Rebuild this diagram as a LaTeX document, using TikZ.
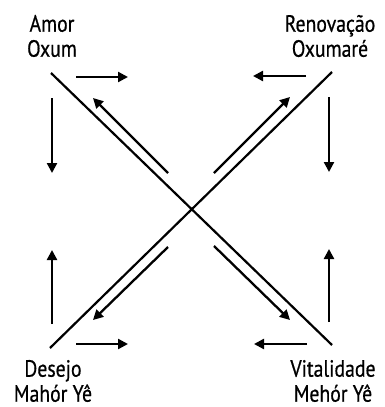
\documentclass[tikz,border=0pt]{standalone}
\usepackage{fontspec}
\setmainfont{PT Sans}[FakeStretch=0.84,FakeBold=0.6]
\usetikzlibrary{arrows.meta}
\begin{document}
\begin{tikzpicture}[x=1pt,y=-1pt,
  lbl/.style={align=center,font=\fontsize{23.5}{25}\selectfont,inner sep=0pt},
  seta/.style={line width=2.3pt,-{Triangle[length=10pt,width=10pt]}},
  diag/.style={line width=2.2pt}]
\useasboundingbox (0,0) rectangle (385,407);
% corner labels
\node[lbl] (amor) at (52,36) {Amor\\Oxum};
\node[lbl] (renov) at (330,36) {Renovação\\Oxumaré};
\node[lbl] (desejo) at (53,381) {Desejo\\Mahór Yê};
\node[lbl] (vital) at (333,381) {Vitalidade\\Mehór Yê};
% diagonals
\coordinate (nw) at (51,73);
\coordinate (se) at (332,345);
\coordinate (ne) at (332,72);
\coordinate (sw) at (50,348);
\draw[diag] (nw) -- (se);
\draw[diag] (ne) -- (sw);
% arrows beside the diagonals
\coordinate (d1a) at (168,173); \coordinate (d1b) at (93,98);
\coordinate (d2a) at (214,173); \coordinate (d2b) at (290,97);
\coordinate (d3a) at (168,247); \coordinate (d3b) at (93,320);
\coordinate (d4a) at (214,246); \coordinate (d4b) at (290,320);
\draw[seta] (d1a) -- (d1b);
\draw[seta] (d2a) -- (d2b);
\draw[seta] (d3a) -- (d3b);
\draw[seta] (d4a) -- (d4b);
% arrows round the corners
\coordinate (h1a) at (76,77);  \coordinate (h1b) at (128,77);
\coordinate (h2a) at (306,76); \coordinate (h2b) at (253,76);
\coordinate (h3a) at (76,344); \coordinate (h3b) at (128,344);
\coordinate (h4a) at (307,344); \coordinate (h4b) at (254,344);
\coordinate (v1a) at (52,98);  \coordinate (v1b) at (52,173);
\coordinate (v2a) at (329,97); \coordinate (v2b) at (329,172);
\coordinate (v3a) at (52,324); \coordinate (v3b) at (52,250);
\coordinate (v4a) at (329,322); \coordinate (v4b) at (329,249);
\foreach \n in {h1,h2,h3,h4,v1,v2,v3,v4}
  \draw[seta] (\n a) -- (\n b);
\end{tikzpicture}
\end{document}
